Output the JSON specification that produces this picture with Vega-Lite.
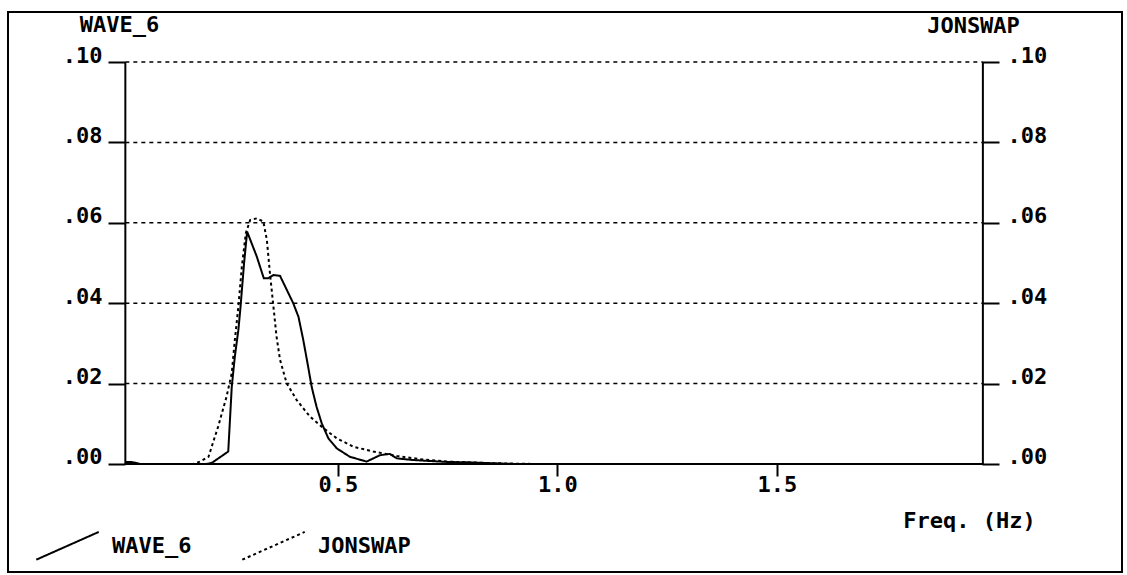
{
  "$schema": "https://vega.github.io/schema/vega-lite/v6.json",
  "width": 1114,
  "height": 560,
  "autosize": {"type": "none"},
  "padding": {"left": 8, "top": 12, "right": 5, "bottom": 3},
  "background": "white",
  "config": {
    "view": {"stroke": "black", "strokeWidth": 2},
    "font": "DejaVu Sans Mono",
    "legend": {
      "orient": "none",
      "legendX": 27,
      "legendY": 501,
      "direction": "horizontal",
      "symbolType": "M-1,0.444L1,-0.444",
      "symbolSize": 3900,
      "symbolStrokeWidth": 2,
      "symbolStrokeColor": "black",
      "labelFont": "DejaVu Sans Mono",
      "labelFontSize": 22,
      "labelFontWeight": "bold",
      "labelColor": "black",
      "columnPadding": 46,
      "labelOffset": 12,
      "padding": 0,
      "title": null
    }
  },
  "datasets": {
    "spectra": [
      {"f": 0.0156, "v": 0.0005, "series": "WAVE_6"},
      {"f": 0.03, "v": 0.0005, "series": "WAVE_6"},
      {"f": 0.05, "v": 0, "series": "WAVE_6"},
      {"f": 0.2, "v": 0, "series": "WAVE_6"},
      {"f": 0.213, "v": 0.0003, "series": "WAVE_6"},
      {"f": 0.25, "v": 0.0031, "series": "WAVE_6"},
      {"f": 0.258, "v": 0.0192, "series": "WAVE_6"},
      {"f": 0.265, "v": 0.0267, "series": "WAVE_6"},
      {"f": 0.273, "v": 0.0333, "series": "WAVE_6"},
      {"f": 0.278, "v": 0.0391, "series": "WAVE_6"},
      {"f": 0.286, "v": 0.0499, "series": "WAVE_6"},
      {"f": 0.293, "v": 0.0578, "series": "WAVE_6"},
      {"f": 0.315, "v": 0.0516, "series": "WAVE_6"},
      {"f": 0.331, "v": 0.0462, "series": "WAVE_6"},
      {"f": 0.341, "v": 0.0462, "series": "WAVE_6"},
      {"f": 0.353, "v": 0.047, "series": "WAVE_6"},
      {"f": 0.368, "v": 0.0468, "series": "WAVE_6"},
      {"f": 0.398, "v": 0.04, "series": "WAVE_6"},
      {"f": 0.41, "v": 0.0366, "series": "WAVE_6"},
      {"f": 0.421, "v": 0.0308, "series": "WAVE_6"},
      {"f": 0.432, "v": 0.0242, "series": "WAVE_6"},
      {"f": 0.44, "v": 0.0192, "series": "WAVE_6"},
      {"f": 0.451, "v": 0.0143, "series": "WAVE_6"},
      {"f": 0.463, "v": 0.0101, "series": "WAVE_6"},
      {"f": 0.478, "v": 0.0064, "series": "WAVE_6"},
      {"f": 0.497, "v": 0.0039, "series": "WAVE_6"},
      {"f": 0.527, "v": 0.0018, "series": "WAVE_6"},
      {"f": 0.565, "v": 0.0006, "series": "WAVE_6"},
      {"f": 0.596, "v": 0.0022, "series": "WAVE_6"},
      {"f": 0.618, "v": 0.0025, "series": "WAVE_6"},
      {"f": 0.634, "v": 0.0014, "series": "WAVE_6"},
      {"f": 0.67, "v": 0.001, "series": "WAVE_6"},
      {"f": 0.7, "v": 0.0008, "series": "WAVE_6"},
      {"f": 0.75, "v": 0.0005, "series": "WAVE_6"},
      {"f": 0.8, "v": 0.0004, "series": "WAVE_6"},
      {"f": 0.85, "v": 0.0002, "series": "WAVE_6"},
      {"f": 0.9, "v": 0, "series": "WAVE_6"},
      {"f": 1.969, "v": 0, "series": "WAVE_6"},
      {"f": 0.0156, "v": 0, "series": "JONSWAP"},
      {"f": 0.17, "v": 0, "series": "JONSWAP"},
      {"f": 0.186, "v": 0.0006, "series": "JONSWAP"},
      {"f": 0.205, "v": 0.0018, "series": "JONSWAP"},
      {"f": 0.227, "v": 0.0093, "series": "JONSWAP"},
      {"f": 0.246, "v": 0.0167, "series": "JONSWAP"},
      {"f": 0.258, "v": 0.0226, "series": "JONSWAP"},
      {"f": 0.265, "v": 0.0308, "series": "JONSWAP"},
      {"f": 0.273, "v": 0.0391, "series": "JONSWAP"},
      {"f": 0.281, "v": 0.0491, "series": "JONSWAP"},
      {"f": 0.29, "v": 0.0574, "series": "JONSWAP"},
      {"f": 0.3, "v": 0.0607, "series": "JONSWAP"},
      {"f": 0.315, "v": 0.0611, "series": "JONSWAP"},
      {"f": 0.33, "v": 0.0603, "series": "JONSWAP"},
      {"f": 0.338, "v": 0.0557, "series": "JONSWAP"},
      {"f": 0.345, "v": 0.0474, "series": "JONSWAP"},
      {"f": 0.353, "v": 0.0391, "series": "JONSWAP"},
      {"f": 0.36, "v": 0.0317, "series": "JONSWAP"},
      {"f": 0.368, "v": 0.0259, "series": "JONSWAP"},
      {"f": 0.383, "v": 0.0201, "series": "JONSWAP"},
      {"f": 0.406, "v": 0.0159, "series": "JONSWAP"},
      {"f": 0.436, "v": 0.0118, "series": "JONSWAP"},
      {"f": 0.467, "v": 0.0089, "series": "JONSWAP"},
      {"f": 0.497, "v": 0.0064, "series": "JONSWAP"},
      {"f": 0.535, "v": 0.0043, "series": "JONSWAP"},
      {"f": 0.58, "v": 0.0031, "series": "JONSWAP"},
      {"f": 0.634, "v": 0.002, "series": "JONSWAP"},
      {"f": 0.687, "v": 0.0012, "series": "JONSWAP"},
      {"f": 0.748, "v": 0.0006, "series": "JONSWAP"},
      {"f": 0.85, "v": 0.0002, "series": "JONSWAP"},
      {"f": 0.95, "v": 0, "series": "JONSWAP"},
      {"f": 1.969, "v": 0, "series": "JONSWAP"}
    ],
    "grid": [{"g": 0.02}, {"g": 0.04}, {"g": 0.06}, {"g": 0.08}, {"g": 0.1}],
    "one": [{}]
  },
  "resolve": {"axis": {"y": "independent"}},
  "layer": [
    {
      "data": {"name": "spectra"},
      "mark": {"type": "line", "strokeWidth": 2, "color": "black"},
      "encoding": {
        "x": {
          "field": "f", "type": "quantitative",
          "scale": {"domain": [-0.2517, 2.2859], "nice": false, "zero": false},
          "axis": {
            "orient": "bottom", "offset": -108, "values": [0.5, 1, 1.5], "format": ".1f",
            "domain": false, "grid": false, "tickSize": 12, "tickWidth": 2, "tickColor": "black",
            "labelPadding": -2, "labelFont": "DejaVu Sans Mono", "labelFontSize": 22, "labelFontWeight": "bold", "labelColor": "black",
            "title": "Freq. (Hz)", "titleAngle": 0, "titleX": 961, "titleY": 56, "titleAlign": "center", "titleBaseline": "middle",
            "titleFont": "DejaVu Sans Mono", "titleFontSize": 22, "titleFontWeight": "bold", "titleColor": "black"
          }
        },
        "y": {
          "field": "v", "type": "quantitative",
          "scale": {"domain": [-0.02687, 0.11244], "nice": false, "zero": false},
          "axis": {
            "orient": "left", "offset": -117, "values": [0, 0.02, 0.04, 0.06, 0.08, 0.1],
            "labelExpr": "replace(format(datum.value, '.2f'), '0.', '.')",
            "domain": false, "grid": false, "tickSize": 17, "tickWidth": 2, "tickColor": "black",
            "labelPadding": 6, "labelBaseline": "alphabetic", "labelFont": "DejaVu Sans Mono", "labelFontSize": 22, "labelFontWeight": "bold", "labelColor": "black",
            "title": "WAVE_6", "titleAngle": 0, "titleX": -6, "titleY": 12, "titleAlign": "center", "titleBaseline": "middle",
            "titleFont": "DejaVu Sans Mono", "titleFontSize": 22, "titleFontWeight": "bold", "titleColor": "black"
          }
        },
        "strokeDash": {
          "field": "series", "type": "nominal",
          "scale": {"domain": ["WAVE_6", "JONSWAP"], "range": [[1, 0], [3, 3]]}
        }
      }
    },
    {
      "data": {"name": "grid"},
      "mark": {"type": "rule", "strokeDash": [4, 4], "strokeWidth": 1.5, "color": "black"},
      "encoding": {
        "y": {
          "field": "g", "type": "quantitative",
          "axis": {
            "orient": "right", "offset": -140, "values": [0, 0.02, 0.04, 0.06, 0.08, 0.1],
            "labelExpr": "replace(format(datum.value, '.2f'), '0.', '.')",
            "domain": false, "grid": false, "tickSize": 17, "tickWidth": 2, "tickColor": "black",
            "labelPadding": 8, "labelBaseline": "alphabetic", "labelFont": "DejaVu Sans Mono", "labelFontSize": 22, "labelFontWeight": "bold", "labelColor": "black",
            "title": "JONSWAP", "titleAngle": 0, "titleX": -9, "titleY": 13, "titleAlign": "center", "titleBaseline": "middle",
            "titleFont": "DejaVu Sans Mono", "titleFontSize": 22, "titleFontWeight": "bold", "titleColor": "black"
          }
        },
        "x": {"datum": 0.0156, "type": "quantitative"},
        "x2": {"datum": 1.969}
      }
    },
    {
      "data": {"name": "one"},
      "mark": {"type": "rule", "strokeWidth": 2, "color": "black"},
      "encoding": {
        "x": {"datum": 0.0156, "type": "quantitative"},
        "y": {"datum": 0, "type": "quantitative", "axis": null},
        "y2": {"datum": 0.1}
      }
    },
    {
      "data": {"name": "one"},
      "mark": {"type": "rule", "strokeWidth": 2, "color": "black"},
      "encoding": {
        "x": {"datum": 1.969, "type": "quantitative"},
        "y": {"datum": 0, "type": "quantitative", "axis": null},
        "y2": {"datum": 0.1}
      }
    },
    {
      "data": {"name": "one"},
      "mark": {"type": "rule", "strokeWidth": 2, "color": "black"},
      "encoding": {
        "x": {"datum": 0.0156, "type": "quantitative"},
        "x2": {"datum": 1.969},
        "y": {"datum": 0, "type": "quantitative", "axis": null}
      }
    }
  ]
}
